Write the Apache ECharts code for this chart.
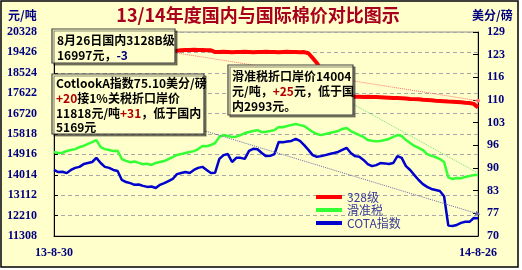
<!DOCTYPE html>
<html>
<head>
<meta charset="utf-8">
<script src="https://cdn.jsdelivr.net/npm/echarts@6/dist/echarts.min.js"></script>
<style>
html,body{margin:0;padding:0;background:#fff;}
#c{width:522px;height:270px;}
</style>
</head>
<body>
<div id="c"></div>
<script>
// ---- data ----
const leftTicks = [11308, 12210, 13112, 14014, 14916, 15818, 16720, 17622, 18524, 19426, 20328];
const rightTickLabels = ['70', '77', '83', '90', '96', '103', '110', '116', '123', '129'];
const seriesNames = ['328级', '滑准税', 'COTA指数'];

const red328 = [19480,19490,19490,19500,19490,19480,19490,19500,19510,19500,19490,
19500,19510,19520,19510,19500,19500,19510,19520,19510,19500,
19490,19490,19480,19490,19500,19490,19480,19490,19500,
19520,19530,19530,19540,19530,19530,19520,19520,
19440,
19440,19450,19440,19430,19440,19440,19450,19440,19430,19440,19440,19450,19440,19440,19430,19440,19450,19440,19440,19430,19440,
19390,19180,18960,18650,18340,18070,17850,17720,17630,17540,
17500,17470,17460,17450,17460,17450,17450,17440,17430,17420,
17410,17410,17400,17390,17370,17360,17350,17330,17320,17310,
17290,17280,17270,17250,17240,17230,17220,17200,17190,17150,
16997];

const greenSliding = [15020,14980,14990,15070,15110,15150,15240,15290,15380,15460,
15550,15240,15150,15110,15070,15080,14710,14630,14570,14600,
14540,14480,14500,14450,14540,14580,14620,14710,14800,14890,
14930,14980,15020,15060,15150,15290,15280,15330,15420,15690,
15770,15730,15690,15700,15770,15860,15910,15950,15990,15900,
15920,15950,15990,16130,16120,16170,16220,16260,16210,16170,
16040,15910,15820,15770,15820,15860,15910,15950,16040,16080,
15950,15860,15770,15690,15550,15520,15500,15510,15550,15600,
15690,15770,15730,15550,15420,15290,15200,15110,14930,14850,
14800,14710,14580,13900,13830,13870,13860,13920,13960,14000,
14004];

const blueCota = [89.1,88.5,88.6,88.2,89.1,89.7,90.0,90.8,91.1,91.4,
92.6,91.1,90.0,89.7,89.1,88.8,86.2,85.6,85.3,84.8,
84.9,84.5,84.2,84.3,83.9,84.8,85.3,85.9,86.5,87.9,
88.2,88.5,88.2,89.1,89.7,90.0,89.1,88.2,88.3,92.3,
93.4,93.7,91.4,92.6,92.6,92.3,94.6,95.2,95.1,94.0,
93.1,93.2,93.7,97.2,97.1,97.3,97.5,98.1,97.5,96.3,
94.9,93.4,92.9,93.1,93.4,93.7,94.0,94.3,94.9,95.5,
94.0,93.1,92.9,92.0,90.8,90.2,90.5,91.1,91.0,90.8,
91.1,93.1,92.6,90.2,89.1,87.6,86.2,85.0,84.2,83.6,
83.3,83.0,81.5,73.0,72.9,73.2,73.8,74.1,74.1,75.2,
75.1];

// categories: dates from 13-8-30 to 14-8-26
const categories = [];
for (let i = 0; i < red328.length; i++) {
  const d = new Date(2013, 7, 30 + Math.round(i * 361 / (red328.length - 1)));
  categories.push((d.getFullYear() % 100) + '-' + (d.getMonth() + 1) + '-' + d.getDate());
}
const lastIdx = categories.length - 1;

const rightMin = 70, rightMax = 129;
const rightTickPos = rightTickLabels.map((_, k) => rightMin + k * (rightMax - rightMin) / (rightTickLabels.length - 1));

const navy = '#000080';
const bg = '#FFFFCC';
const cjk = '"Noto Sans CJK SC"';
const boxFont = 'bold 12px ' + cjk;

function richStyles() {
  return {
    b: { font: boxFont, fill: '#000' },
    r: { font: boxFont, fill: '#B00000' },
    n: { font: boxFont, fill: navy }
  };
}
function line(x, y, text) {
  return { type: 'text', x: x, y: y, z: 101, style: { text: text, font: boxFont, fill: '#000', verticalAlign: 'middle', rich: richStyles() } };
}
function box(x, y, w, h) {
  return { type: 'rect', z: 100, shape: { x: x, y: y, width: w, height: h },
    style: { fill: bg, stroke: '#404040', lineWidth: 1.2, shadowColor: 'rgba(0,0,0,0.45)', shadowOffsetX: 2, shadowOffsetY: 2, shadowBlur: 0 } };
}

const chart = echarts.init(document.getElementById('c'), null, { renderer: 'canvas' });
chart.setOption({
  animation: false,
  backgroundColor: '#fff',
  grid: { left: 54, right: 44, top: 32, bottom: 34, show: true, borderColor: '#909090', borderWidth: 1, backgroundColor: 'transparent' },
  legend: {
    data: seriesNames,
    orient: 'vertical', left: 311, top: 186, itemGap: 1,
    itemWidth: 26, itemHeight: 4, icon: 'rect',
    textStyle: { color: '#3a3a9a', fontSize: 12, fontFamily: cjk }
  },
  xAxis: {
    type: 'category', data: categories, boundaryGap: false,
    axisLine: { lineStyle: { color: '#000', width: 1 } },
    axisTick: { show: false },
    axisLabel: {
      interval: (idx) => idx === 0 || idx === lastIdx,
      color: navy, fontFamily: 'Liberation Serif', fontWeight: 'bold', fontSize: 12, margin: 11
    },
    splitLine: { show: false }
  },
  yAxis: [{
    type: 'value', position: 'left', min: leftTicks[0], max: leftTicks[leftTicks.length - 1],
    axisLine: { show: true, lineStyle: { color: '#000' } },
    axisTick: { show: true, inside: true, length: 4, customValues: leftTicks, lineStyle: { color: '#000' } },
    axisLabel: { customValues: leftTicks, color: navy, fontFamily: 'Liberation Serif', fontWeight: 'bold', fontSize: 12, margin: 17,
      formatter: (v) => String(Math.round(v)) },
    splitLine: { show: true, lineStyle: { color: '#a8a8a8', type: [4, 3], width: 1 } }
  }, {
    type: 'value', position: 'right', min: rightMin, max: rightMax,
    axisLine: { show: true, lineStyle: { color: '#000' } },
    axisTick: { show: true, inside: true, length: 5, customValues: rightTickPos, lineStyle: { color: '#000' } },
    axisLabel: {
      customValues: rightTickPos, color: navy, fontFamily: 'Liberation Serif', fontWeight: 'bold', fontSize: 12, margin: 9,
      formatter: (v) => {
        let best = 0;
        rightTickPos.forEach((p, k) => { if (Math.abs(p - v) < Math.abs(rightTickPos[best] - v)) best = k; });
        return rightTickLabels[best];
      }
    },
    splitLine: { show: false }
  }],
  series: [{
    name: seriesNames[0], type: 'line', yAxisIndex: 0, data: red328, symbol: 'none',
    lineStyle: { color: '#FF0000', width: 4 }, itemStyle: { color: '#FF0000' }, z: 4,
    markLine: { silent: true, symbol: ['none', 'circle'], symbolSize: 4, label: { show: false },
      lineStyle: { color: '#FF7070', type: 'dotted', width: 1 },
      data: [[{ coord: [29, 19400] }, { coord: [lastIdx, 17290] }]] }
  }, {
    name: seriesNames[1], type: 'line', yAxisIndex: 0, data: greenSliding, symbol: 'none',
    lineStyle: { color: '#33FF33', width: 2.5 }, itemStyle: { color: '#33FF33' }, z: 3,
    markLine: { silent: true, symbol: ['none', 'none'], label: { show: false },
      lineStyle: { color: '#70E070', type: 'dotted', width: 1 },
      data: [[{ coord: [70, 17190] }, { coord: [lastIdx, 14090] }]] }
  }, {
    name: seriesNames[2], type: 'line', yAxisIndex: 1, data: blueCota, symbol: 'none',
    lineStyle: { color: '#0000CC', width: 2.5 }, itemStyle: { color: '#0000CC' }, z: 3,
    markLine: { silent: true, symbol: ['none', 'triangle'], symbolSize: 5, label: { show: false },
      lineStyle: { color: '#6a6aa8', type: 'dotted', width: 1 },
      data: [[{ coord: [35, 100.6] }, { coord: [lastIdx, 76.4] }]] }
  }],
  graphic: [
    { type: 'rect', z: -10, silent: true, shape: { x: 1, y: 1, width: 517, height: 266 }, style: { fill: bg, stroke: '#000', lineWidth: 1.5 } },
    { type: 'text', x: 258, y: 15, z: 50, style: { text: '13/14年度国内与国际棉价对比图示', font: 'bold 18px ' + cjk, fill: '#A8001E', align: 'center', verticalAlign: 'middle' } },
    { type: 'text', x: 8, y: 15, z: 50, style: { text: '元/吨', font: 'bold 12px ' + cjk, fill: navy, verticalAlign: 'middle' } },
    { type: 'text', x: 472, y: 15, z: 50, style: { text: '美分/磅', font: 'bold 12px ' + cjk, fill: navy, verticalAlign: 'middle' } },
    box(52, 29, 123, 34),
    line(57, 40, '{b|8月26日国内3128B级}'),
    line(57, 55, '{b|16997元，}{n|-3}'),
    box(52, 74, 152, 60),
    line(56, 83, '{b|CotlookA指数75.10美分/磅}'),
    line(56, 98, '{r|+20}{b|接1%关税折口岸价}'),
    line(56, 113, '{b|11818元/吨}{r|+31}{b|，低于国内}'),
    line(56, 127, '{b|5169元}'),
    box(228, 65, 125, 50),
    line(232, 76, '{b|滑准税折口岸价14004}'),
    line(232, 91, '{b|元/吨，}{r|+25}{b|元，低于国}'),
    line(232, 106, '{b|内2993元。}')
  ]
});
</script>
</body>
</html>
